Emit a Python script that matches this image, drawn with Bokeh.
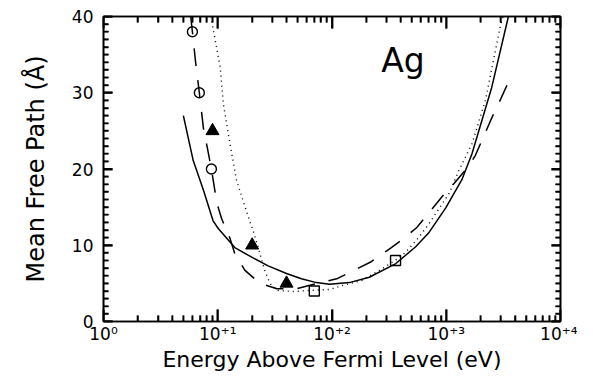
from bokeh.plotting import figure
from bokeh.models import FixedTicker, LogAxis, LinearAxis, Label, Range1d
from bokeh.embed import file_html
from bokeh.resources import INLINE

# ---- data ----
solid_E = [5.0, 6.1, 7.5, 9.1, 10.1, 14.1, 20, 27.6, 40, 54, 73, 95, 142, 212, 362, 540, 700, 990, 1370, 1680, 2500, 3500]
solid_L = [27.0, 21.1, 17.2, 13.2, 12.2, 9.7, 8.4, 7.3, 6.3, 5.6, 5.1, 4.9, 5.1, 5.8, 7.6, 9.8, 11.6, 14.9, 18.6, 22.0, 30.7, 40.0]

dashed_E = [5.8, 6.0, 6.4, 6.9, 7.5, 8.1, 8.8, 9.8, 10.8, 12.8, 14.1, 17.3, 23.4, 33, 49, 75, 110, 151, 218, 304, 410, 550, 700, 910, 1170, 1580, 1800, 2130, 2520, 3000, 3500]
dashed_L = [40, 38, 34, 30, 25.3, 22.8, 20, 15.6, 13.5, 10.9, 8.9, 6.7, 5.0, 4.3, 4.3, 5.0, 5.6, 6.6, 7.8, 9.3, 10.7, 12.3, 14.2, 16.3, 18.1, 20.4, 21.8, 24.3, 26.8, 29.2, 31.4]

dotted_E = [8.7, 9.0, 10.5, 11.2, 12.8, 14.6, 19.1, 20.4, 22.6, 24.1, 25.8, 27.6, 29.5, 33.6, 47, 61, 95, 123, 184, 260, 357, 443, 580, 705, 1060, 1290, 1680, 2200, 3000, 3150]
dotted_L = [40, 38.8, 33.4, 28.5, 23.3, 18.5, 13.1, 11.9, 9.7, 8.2, 6.7, 5.6, 4.7, 4.07, 3.93, 4.07, 4.2, 4.7, 5.4, 6.7, 8.0, 9.1, 11.1, 12.8, 16.8, 19.8, 23.3, 29.0, 39.0, 40.0]

circle_E = [6.0, 6.9, 8.8]
circle_L = [38, 30, 20]
triangle_E = [9.0, 20, 40]
triangle_L = [25, 10, 5]
square_E = [70, 360]
square_L = [4, 8]

x_major = [1, 10, 100, 1000, 10000]
x_labels = ["10\u2070", "10\u207a\u00b9", "10\u207a\u00b2", "10\u207a\u00b3", "10\u207a\u2074"]
x_minor = [m * d for d in [1, 10, 100, 1000] for m in range(2, 10)]
y_major = [0, 10, 20, 30, 40]
y_minor = [v for v in range(1, 40) if v % 10]

X0, X1, Y0, Y1 = 1, 10000, 0, 40
FW, FH = 457, 305                      # frame size in px
PX_PER_UNIT = FH / (Y1 - Y0)
PX_PER_DECADE = FW / 4.0
FONT = "DejaVu Sans"

p = figure(frame_width=FW, frame_height=FH, x_axis_type="log",
           x_range=Range1d(X0, X1), y_range=Range1d(Y0, Y1),
           output_backend="svg", toolbar_location=None,
           min_border_left=103, min_border_right=17,
           min_border_top=16, min_border_bottom=51)
p.xgrid.visible = False
p.ygrid.visible = False
p.outline_line_color = "black"
p.outline_line_width = 1.6
p.background_fill_color = "white"
p.border_fill_color = "white"

bottom = p.below[0]
left = p.left[0]
top = LogAxis()
right = LinearAxis()
p.add_layout(top, "above")
p.add_layout(right, "right")

for ax in (bottom, top):
    ax.ticker = FixedTicker(ticks=x_major, minor_ticks=x_minor)
    ax.major_tick_in = 12
    ax.minor_tick_in = 6
for ax in (left, right):
    ax.ticker = FixedTicker(ticks=y_major, minor_ticks=y_minor)
    ax.major_tick_in = 9
    ax.minor_tick_in = 5
for ax in (bottom, top, left, right):
    ax.major_tick_out = 0
    ax.minor_tick_out = 0
    ax.major_tick_line_color = "black"
    ax.minor_tick_line_color = "black"
    ax.major_tick_line_width = 1.8
    ax.minor_tick_line_width = 1.6
    ax.axis_line_color = "black"
    ax.axis_line_width = 1.6
    ax.major_label_text_font = FONT
    ax.major_label_text_color = "black"
    ax.major_label_text_font_size = "17px"
    ax.axis_label_text_font = FONT
    ax.axis_label_text_font_style = "normal"
    ax.axis_label_text_color = "black"

for ax in (top, right):
    ax.major_label_text_color = None
    ax.major_label_text_font_size = "1px"
    ax.major_label_standoff = 0

bottom.major_label_overrides = {t: s for t, s in zip(x_major, x_labels)}
bottom.major_label_standoff = 2
bottom.axis_label = "Energy Above Fermi Level (eV)"
bottom.axis_label_text_font_size = "22px"
bottom.axis_label_standoff = 0

left.major_label_standoff = 10
left.axis_label = "Mean Free Path (\u00c5)"
left.axis_label_text_font_size = "24px"
left.axis_label_standoff = 19

# inward ticks drawn as thin filled bars (quads) on all four sides
def xtick_bars(xs, length_px, y_edge, direction, width_px):
    f = 10 ** (width_px / 2.0 / PX_PER_DECADE)
    y_end = y_edge + direction * length_px / PX_PER_UNIT
    lo, hi = min(y_edge, y_end), max(y_edge, y_end)
    p.quad(left=[x / f for x in xs], right=[x * f for x in xs],
           bottom=[lo] * len(xs), top=[hi] * len(xs),
           fill_color="black", line_color=None)

def ytick_bars(ys, length_px, x_edge, direction, width_px):
    f = 10 ** (direction * length_px / PX_PER_DECADE)
    h = width_px / 2.0 / PX_PER_UNIT
    x_end = x_edge * f
    lo, hi = min(x_edge, x_end), max(x_edge, x_end)
    p.quad(left=[lo] * len(ys), right=[hi] * len(ys),
           bottom=[y - h for y in ys], top=[y + h for y in ys],
           fill_color="black", line_color=None)

xtick_bars(x_major, 12, Y0, +1, 1.8)
xtick_bars(x_minor, 6, Y0, +1, 1.6)
xtick_bars(x_major, 12, Y1, -1, 1.8)
xtick_bars(x_minor, 6, Y1, -1, 1.6)
ytick_bars(y_major, 9, X0, +1, 1.8)
ytick_bars(y_minor, 5, X0, +1, 1.6)
ytick_bars(y_major, 9, X1, -1, 1.8)
ytick_bars(y_minor, 5, X1, -1, 1.6)

p.line(solid_E, solid_L, line_color="black", line_width=1.5)
p.line(dashed_E, dashed_L, line_color="black", line_width=1.5, line_dash="18 14")
p.line(dotted_E, dotted_L, line_color="black", line_width=1.4, line_dash="1 4")

p.scatter(circle_E, circle_L, marker="circle", size=10, fill_color=None,
          line_color="black", line_width=1.4)
p.scatter(triangle_E, triangle_L, marker="triangle", size=13, fill_color="black",
          line_color="black", line_width=1.0)
p.scatter(square_E, square_L, marker="square", size=10, fill_color=None,
          line_color="black", line_width=1.4)

p.add_layout(Label(x=270, y=34.2, text="Ag", text_font=FONT, text_font_size="33px",
                   text_color="black", text_baseline="alphabetic"))

open("out.html", "w").write(file_html(p, INLINE))
